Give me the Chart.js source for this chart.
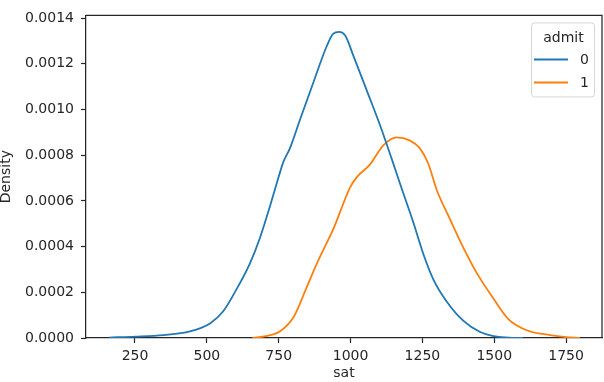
<!DOCTYPE html>
<html>
<head>
<meta charset="utf-8">
<script src="https://cdn.jsdelivr.net/npm/chart.js@4"></script>
<style>
  html, body { margin: 0; padding: 0; background: #fff; }
  #wrap { position: relative; width: 604px; height: 382px; }
</style>
</head>
<body>
<div id="wrap"><canvas id="kde"></canvas></div>
<script>
// KDE curves (sat value, density)
const sat0 = [160, 253, 350, 441, 511, 557, 604, 650, 685, 720, 743, 766, 789, 824, 870, 917, 940, 960, 981, 1010, 1056, 1103, 1143, 1172, 1218, 1253, 1288, 1335, 1393, 1451, 1497, 1550, 1600];
const density0 = [0.000002, 0.000006, 0.000013, 0.000029, 0.000064, 0.000117, 0.000215, 0.000327, 0.000439, 0.000578, 0.000676, 0.00077, 0.00083, 0.000955, 0.001116, 0.001277, 0.001332, 0.00134, 0.001325, 0.001235, 0.001085, 0.00093, 0.000785, 0.000676, 0.000508, 0.000369, 0.000257, 0.000159, 0.000075, 0.000026, 0.000008, 0.000002, 0.0];

const sat1 = [659, 700, 755, 801, 824, 836, 883, 941, 999, 1022, 1068, 1114, 1161, 1207, 1240, 1270, 1300, 1346, 1392, 1439, 1497, 1549, 1613, 1694, 1750, 1798];
const density1 = [0.000001, 0.000007, 0.00003, 0.00009, 0.00015, 0.000187, 0.000327, 0.00048, 0.00066, 0.000704, 0.00076, 0.000843, 0.000878, 0.000864, 0.000832, 0.000765, 0.000648, 0.00052, 0.000397, 0.000285, 0.000173, 0.000083, 0.000034, 0.000013, 0.000004, 0.0];

const seriesLabels = ['0', '1'];
const legendTitle = 'admit';
const xTicks = [250, 500, 750, 1000, 1250, 1500, 1750];
const yTicks = [0, 0.0002, 0.0004, 0.0006, 0.0008, 0.0010, 0.0012, 0.0014];

const colors = ['#1f77b4', '#ff7f0e'];
const ink = '#262626';
const font = 'DejaVu Sans';

function toPoints(xs, ys) {
    return xs.map((x, i) => ({ x: x, y: ys[i] }));
}

// top and right spines
const framePlugin = {
    id: 'frame',
    afterDraw(chart) {
        const a = chart.chartArea;
        const ctx = chart.ctx;
        ctx.save();
        ctx.strokeStyle = ink;
        ctx.lineWidth = 1.25;
        ctx.beginPath();
        ctx.moveTo(a.left, a.top);
        ctx.lineTo(a.right, a.top);
        ctx.lineTo(a.right, a.bottom);
        ctx.stroke();
        ctx.restore();
    }
};

// seaborn-style legend box in the upper right corner
const legendPlugin = {
    id: 'boxLegend',
    afterDraw(chart) {
        const a = chart.chartArea;
        const ctx = chart.ctx;
        const w = 63, h = 74;
        const x = a.right - 8 - w, y = a.top + 7;
        ctx.save();
        ctx.fillStyle = 'rgba(255,255,255,0.8)';
        ctx.strokeStyle = '#d6d6d6';
        ctx.lineWidth = 1;
        ctx.beginPath();
        ctx.roundRect(x + 0.5, y + 0.5, w, h, 3);
        ctx.fill();
        ctx.stroke();

        ctx.fillStyle = ink;
        ctx.font = '14px "' + font + '"';
        ctx.textAlign = 'center';
        ctx.textBaseline = 'middle';
        ctx.fillText(legendTitle, x + w / 2 + 1, y + 16);

        chart.data.datasets.forEach((ds, i) => {
            const ly = y + 37 + i * 23;
            ctx.strokeStyle = ds.borderColor;
            ctx.lineWidth = 2;
            ctx.beginPath();
            ctx.moveTo(x + 3, ly);
            ctx.lineTo(x + 37, ly);
            ctx.stroke();
            ctx.fillStyle = ink;
            ctx.textAlign = 'left';
            ctx.font = '14px "' + font + '"';
            ctx.fillText(ds.label, x + 49, ly + 1);
        });
        ctx.restore();
    }
};

const ctx = document.getElementById('kde');
new Chart(ctx, {
    type: 'scatter',
    data: {
        datasets: [
            { label: seriesLabels[0], data: toPoints(sat0, density0), borderColor: colors[0], backgroundColor: colors[0] },
            { label: seriesLabels[1], data: toPoints(sat1, density1), borderColor: colors[1], backgroundColor: colors[1] }
        ].map(ds => Object.assign(ds, {
            showLine: true,
            pointRadius: 0,
            borderWidth: 1.8,
            cubicInterpolationMode: 'monotone',
            fill: false
        }))
    },
    options: {
        responsive: true,
        maintainAspectRatio: false,
        animation: false,
        layout: { padding: { top: 3, right: 2, left: 0, bottom: 0 } },
        plugins: {
            legend: { display: false },
            tooltip: { enabled: false }
        },
        scales: {
            x: {
                type: 'linear',
                min: 79.5,
                max: 1875,
                afterBuildTicks: (s) => { s.ticks = xTicks.map(v => ({ value: v })); },
                afterFit: (s) => { s.height = 44; },
                border: { color: ink, width: 1.25 },
                grid: { drawOnChartArea: false, tickLength: 5, tickColor: ink, tickWidth: 1.2 },
                ticks: { color: ink, padding: 5, font: { family: font, size: 14 }, maxRotation: 0, callback: (v) => String(v) },
                title: { display: true, text: 'sat', color: ink, font: { family: font, size: 14 }, padding: 0 }
            },
            y: {
                type: 'linear',
                min: 0,
                max: 0.001412,
                afterBuildTicks: (s) => { s.ticks = yTicks.map(v => ({ value: v })); },
                afterFit: (s) => { s.width = 86; },
                border: { color: ink, width: 1.25 },
                grid: { drawOnChartArea: false, tickLength: 5, tickColor: ink, tickWidth: 1.2 },
                ticks: { color: ink, padding: 7, font: { family: font, size: 14 }, callback: (v) => v.toFixed(4) },
                title: { display: true, text: 'Density', color: ink, font: { family: font, size: 14 }, padding: { top: -2, bottom: 0 } }
            }
        }
    },
    plugins: [framePlugin, legendPlugin]
});
</script>
</body>
</html>
